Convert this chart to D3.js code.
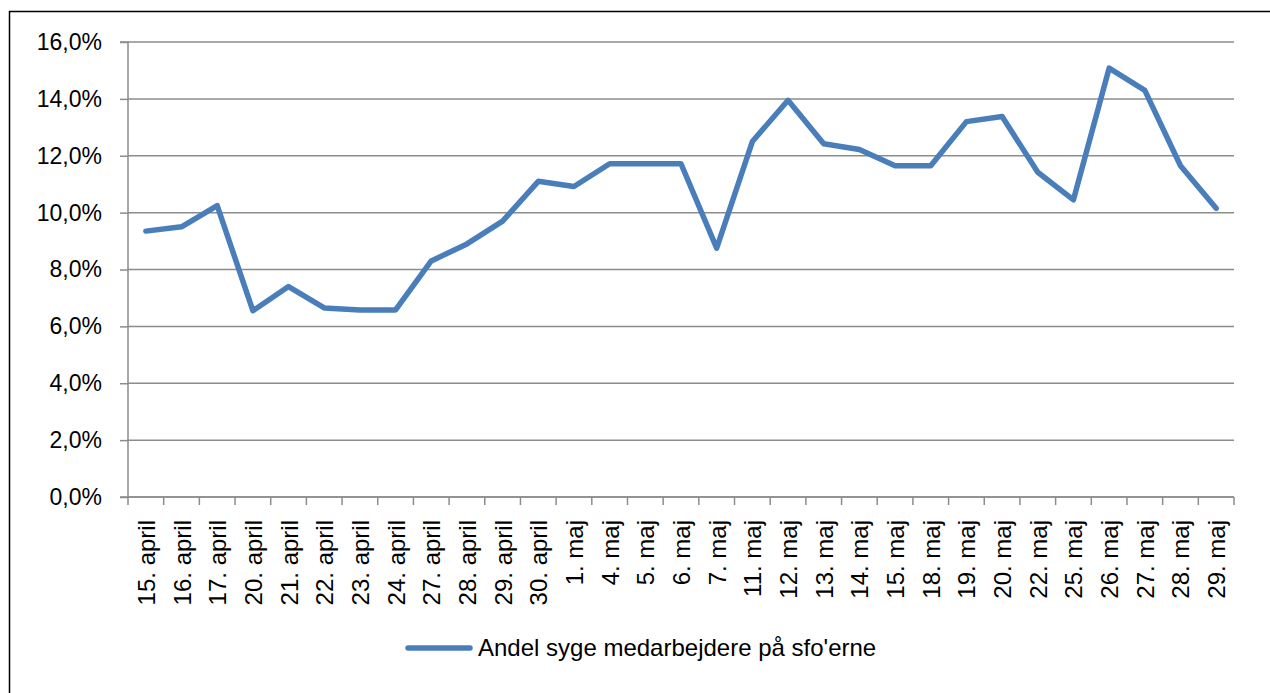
<!DOCTYPE html>
<html>
  <head>
    <meta charset="utf-8">
    <title>Andel syge medarbejdere</title>
    <script src="https://d3js.org/d3.v7.min.js"></script>
    <style>
      body { margin: 0; background: #fff; }
      text { font-family: "Liberation Sans", Arial, sans-serif; fill: #000; }
    </style>
  </head>
  <body>
    <div id="chart"></div>
    <script>
      // data
      const dates = ["15. april", "16. april", "17. april", "20. april", "21. april", "22. april",
        "23. april", "24. april", "27. april", "28. april", "29. april", "30. april", "1. maj",
        "4. maj", "5. maj", "6. maj", "7. maj", "11. maj", "12. maj", "13. maj", "14. maj",
        "15. maj", "18. maj", "19. maj", "20. maj", "22. maj", "25. maj", "26. maj", "27. maj",
        "28. maj", "29. maj"];
      const sickShare = [9.35, 9.5, 10.25, 6.55, 7.4, 6.65, 6.58, 6.58, 8.3, 8.9, 9.7, 11.1, 10.92,
        11.72, 11.72, 11.72, 8.75, 12.5, 13.95, 12.42, 12.22, 11.65, 11.65, 13.2, 13.38, 11.42,
        10.45, 15.08, 14.3, 11.65, 10.15];
      const yTicks = [0, 2, 4, 6, 8, 10, 12, 14, 16];
      const seriesName = "Andel syge medarbejdere på sfo'erne";

      const W = 1270, H = 693;
      const margin = {top: 42, right: 36, bottom: 196, left: 128};
      const width = W - margin.left - margin.right,
            height = H - margin.top - margin.bottom;
      const fontSize = 23;

      const svg = d3.select("#chart").append("svg")
        .attr("width", W).attr("height", H);

      // outer frame
      svg.append("rect")
        .attr("x", 9.5).attr("y", 11.5)
        .attr("width", W).attr("height", H)
        .attr("fill", "none").attr("stroke", "#000").attr("stroke-width", 1.5);

      const g = svg.append("g")
        .attr("transform", `translate(${margin.left},${margin.top})`);

      const x = d3.scaleBand().domain(dates).range([0, width]);
      const y = d3.scaleLinear().domain([0, 16]).range([height, 0]);

      // gridlines
      g.append("g")
        .selectAll("line")
        .data(yTicks)
        .join("line")
          .attr("x1", 0).attr("x2", width)
          .attr("y1", d => y(d)).attr("y2", d => y(d))
          .attr("stroke", "#8c8c8c").attr("stroke-width", 1.5);

      // y axis
      const yAxis = g.append("g")
        .call(d3.axisLeft(y).tickValues(yTicks).tickSize(8).tickPadding(18)
          .tickFormat(d => d.toFixed(1).replace(".", ",") + "%"));
      yAxis.select(".domain").attr("stroke", "#8c8c8c").attr("stroke-width", 1.5)
        .attr("d", `M-8,${y(0)}H0V${y(16)}H-8`);
      yAxis.selectAll(".tick line").attr("stroke", "#8c8c8c").attr("stroke-width", 1.5);
      yAxis.selectAll("text").attr("font-size", fontSize).attr("fill", "#000")
        .style("font-family", "Liberation Sans, Arial, sans-serif");

      // x axis: ticks on band boundaries
      const xAxis = g.append("g").attr("transform", `translate(0,${height})`);
      xAxis.append("line")
        .attr("x1", 0).attr("x2", width).attr("y1", 0).attr("y2", 0)
        .attr("stroke", "#8c8c8c").attr("stroke-width", 1.5);
      xAxis.selectAll("line.tk")
        .data(dates.concat(["_end"]))
        .join("line").attr("class", "tk")
          .attr("x1", (d, i) => i * x.step()).attr("x2", (d, i) => i * x.step())
          .attr("y1", 0).attr("y2", 8)
          .attr("stroke", "#8c8c8c").attr("stroke-width", 1.5);
      xAxis.selectAll("text")
        .data(dates)
        .join("text")
          .attr("transform", d => `translate(${x(d) + x.bandwidth() / 2 + 9},${23}) rotate(-90)`)
          .attr("text-anchor", "end")
          .attr("font-size", 24)
          .text(d => d);

      // the line
      const line = d3.line()
        .x((d, i) => x(dates[i]) + x.bandwidth() / 2)
        .y(d => y(d));
      g.append("path")
        .datum(sickShare)
        .attr("fill", "none")
        .attr("stroke", "#4a7ebb")
        .attr("stroke-width", 5.5)
        .attr("stroke-linejoin", "round")
        .attr("stroke-linecap", "round")
        .attr("d", line);

      // legend
      const lg = svg.append("g").attr("transform", "translate(408,648)");
      lg.append("line")
        .attr("x1", 0).attr("x2", 62).attr("y1", 0).attr("y2", 0)
        .attr("stroke", "#4a7ebb").attr("stroke-width", 5.5).attr("stroke-linecap", "round");
      lg.append("text")
        .attr("x", 70).attr("y", 8)
        .attr("font-size", 24)
        .text(seriesName);
    </script>
  </body>
</html>
